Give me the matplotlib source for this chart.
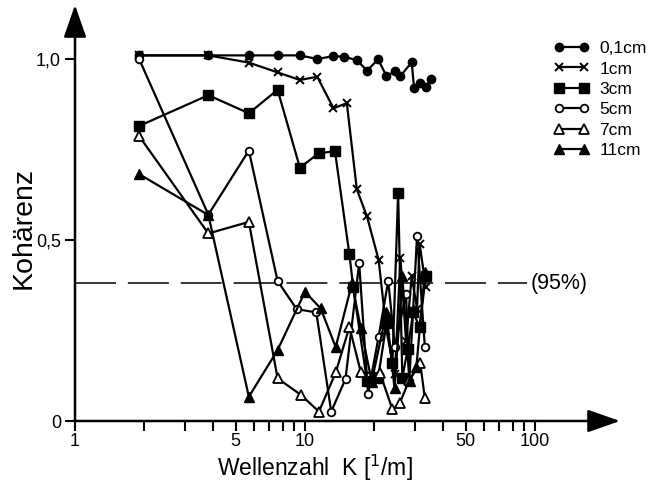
import matplotlib
matplotlib.use("Agg")
import matplotlib.pyplot as plt
from matplotlib.lines import Line2D

plt.rcParams['font.family'] = ['Liberation Sans', 'DejaVu Sans']

# ---- data ----
k_01 = [1.9, 3.8, 5.7, 7.6, 9.5, 11.3, 13.3, 14.8, 16.8, 18.6, 20.8, 22.6, 24.6, 26.0, 29.1, 29.8, 31.5, 33.5, 35.2]
c_01 = [1.01, 1.01, 1.01, 1.01, 1.01, 1.0, 1.008, 1.006, 0.997, 0.968, 0.999, 0.953, 0.966, 0.953, 0.991, 0.92, 0.934, 0.923, 0.945]

k_1 = [1.9, 3.8, 5.7, 7.6, 9.5, 11.3, 13.3, 15.2, 16.8, 18.6, 20.9, 22.6, 24.6, 26.0, 27.5, 29.1, 30.7, 31.5, 33.5]
c_1 = [1.01, 1.01, 0.99, 0.963, 0.942, 0.951, 0.864, 0.878, 0.64, 0.565, 0.445, 0.25, 0.13, 0.45, 0.22, 0.40, 0.31, 0.49, 0.37]

k_3 = [1.9, 3.8, 5.7, 7.6, 9.5, 11.5, 13.5, 15.6, 16.2, 18.6, 20.8, 22.6, 24.0, 25.4, 26.5, 28.0, 29.5, 31.5, 33.5]
c_3 = [0.815, 0.90, 0.85, 0.915, 0.70, 0.74, 0.745, 0.46, 0.37, 0.11, 0.12, 0.27, 0.16, 0.63, 0.12, 0.20, 0.30, 0.26, 0.40]

k_5 = [1.9, 3.8, 5.7, 7.6, 9.2, 11.2, 13.0, 15.0, 17.2, 18.8, 20.9, 23.0, 24.6, 27.5, 28.4, 30.7, 33.2]
c_5 = [1.0, 0.57, 0.747, 0.387, 0.309, 0.30, 0.026, 0.116, 0.436, 0.075, 0.233, 0.387, 0.205, 0.351, 0.11, 0.511, 0.205]

k_7 = [1.9, 3.8, 5.7, 7.6, 9.6, 11.5, 13.6, 15.6, 17.5, 21.2, 24.0, 25.8, 28.4, 31.7, 33.2]
c_7 = [0.787, 0.518, 0.55, 0.118, 0.072, 0.026, 0.134, 0.26, 0.134, 0.132, 0.032, 0.049, 0.113, 0.159, 0.063]

k_11 = [1.9, 3.8, 5.7, 7.6, 10.0, 11.7, 13.6, 16.0, 17.5, 19.5, 22.6, 24.5, 26.5, 28.5, 30.5, 33.2]
c_11 = [0.682, 0.569, 0.067, 0.196, 0.357, 0.311, 0.204, 0.38, 0.256, 0.109, 0.30, 0.09, 0.40, 0.11, 0.15, 0.412]

labels = ['0,1cm', '1cm', '3cm', '5cm', '7cm', '11cm']
sig95 = 0.381

x_major = [1, 5, 10, 50, 100]
x_major_labels = ['1', '5', '10', '50', '100']
x_minor = [2, 3, 4, 6, 7, 8, 9, 20, 30, 40, 60, 70, 80, 90]
y_ticks = [0, 0.5, 1.0]
y_labels = ['0', '0,5', '1,0']

# ---- figure ----
fig = plt.figure(figsize=(6.52, 4.82), dpi=100)
ax = fig.add_axes([75/652, (482-421)/482, (620-75)/652, (421-5)/482])
ax.set_xscale('log')
ax.set_xlim(1, 10**((620-75)/230))
ax.set_ylim(0, (421-5)/362)

styles = [
    dict(marker='o', ms=6, mfc='k', mec='k'),
    dict(marker='x', ms=6, mew=1.4, mec='k'),
    dict(marker='s', ms=6.5, mfc='k', mec='k'),
    dict(marker='o', ms=5.5, mfc='white', mec='k', mew=1.3),
    dict(marker='^', ms=7, mfc='white', mec='k', mew=1.3),
    dict(marker='^', ms=7, mfc='k', mec='k'),
]
series = [(k_01, c_01), (k_1, c_1), (k_3, c_3), (k_5, c_5), (k_7, c_7), (k_11, c_11)]
handles = []
for (kk, cc), st, lab in zip(series, styles, labels):
    ax.plot(kk, cc, color='k', lw=1.6, clip_on=False, **st)
    handles.append(Line2D([], [], color='k', lw=1.6, label=lab, **st))

# significance line
ax.plot([1, 10**((527-75)/230)], [sig95, sig95], color='k', lw=1.1, dashes=(26.8, 7.8))
ax.text(10**((531-75)/230), sig95, '(95%)', ha='left', va='center', fontsize=15.5)

# axes styling
for s in ['top', 'right', 'left', 'bottom']:
    ax.spines[s].set_visible(False)
ax.annotate('', xy=(1.0, 0), xytext=(0, 0), xycoords='axes fraction',
            arrowprops=dict(arrowstyle='-|>,head_length=1.0,head_width=0.35', lw=1.8, color='k',
                            shrinkA=0, shrinkB=0, mutation_scale=20))
ax.annotate('', xy=(0, 1.0), xytext=(0, 0), xycoords='axes fraction',
            arrowprops=dict(arrowstyle='-|>,head_length=1.0,head_width=0.35', lw=1.8, color='k',
                            shrinkA=0, shrinkB=0, mutation_scale=20))

ax.set_xticks(x_major)
ax.set_xticklabels(x_major_labels)
ax.set_xticks(x_minor, minor=True)
ax.set_xticklabels([], minor=True)
ax.tick_params(axis='x', which='both', direction='out', length=7, width=1.5, labelsize=13, pad=2)
ax.set_yticks(y_ticks)
ax.set_yticklabels(y_labels)
ax.tick_params(axis='y', direction='out', length=7, width=1.5, labelsize=13, pad=3)

ax.set_xlabel('Wellenzahl  K [$^{1}$/m]', fontsize=16.5, va='center')
ax.xaxis.set_label_coords((315-75)/545, (421-468)/416)
ax.set_ylabel('Kohärenz', fontsize=20.5, va='center', ha='center')
ax.yaxis.set_label_coords((24-75)/545, (421-228)/416)

leg = ax.legend(handles=handles, loc='upper left', bbox_to_anchor=((554-75)/545, (421-41)/416),
                frameon=False, fontsize=12.5, numpoints=2, handlelength=2.0, handletextpad=0.6,
                labelspacing=0.3, borderpad=0, borderaxespad=0)

fig.savefig('out.png', dpi=100)
